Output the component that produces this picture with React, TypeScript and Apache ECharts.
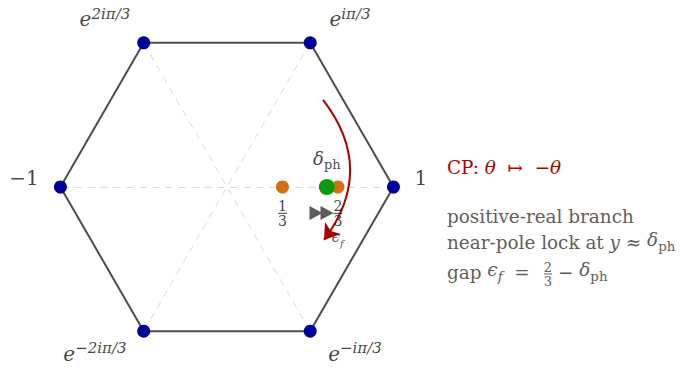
import React, { useEffect, useRef } from "react";
import * as echarts from "echarts";

// Hexagon vertices (sixth roots of unity)
const vertexX = [1, 0.5, -0.5, -1, -0.5, 0.5];
const vertexY = [0, 0.866, 0.866, 0, -0.866, -0.866];
const vertexLabelX = [1.165, 0.739, -0.733, -1.219, -0.793, 0.769];
const vertexLabelY = [0.054, 1.015, 1.015, 0.054, -0.991, -0.991];
const vertexLabelText = [
  "{n|1}",
  "{e|e}{sup|iπ/3}",
  "{e|e}{sup|2iπ/3}",
  "{n|−1}",
  "{e|e}{sup|−2iπ/3}",
  "{e|e}{sup|−iπ/3}",
];
// opposite-vertex pairs for dashed diagonals
const diagonalPairs = [
  [0, 3],
  [1, 4],
  [2, 5],
];
// points on the real axis
const thirdsX = [1 / 3, 2 / 3];
const thirdsNum = ["1", "2"];
const thirdsDen = ["3", "3"];
const fracLabelY = -0.158;
const deltaPh = 0.6;
const deltaLabelY = 0.162;
// CP arrow (start, end)
const cpArcStart = [0.577, 0.523];
const cpArcEnd = [0.583, -0.318];
// gray quiver heads
const quiverX = [0.535, 0.601];
const quiverY = [-0.156, -0.156];
const epsLabel = [0.665, -0.315];

const X_MIN = -1.363;
const X_MAX = 2.739;
const Y_MIN = -1.147;
const Y_MAX = 1.123;

const FONT = '"DejaVu Serif", serif';
const DARK = "#111111";
const GRAY_TEXT = "#5e5e5e";
const RED = "#b00000";
const FS = 18.4;

export default function App() {
  const ref = useRef<HTMLDivElement>(null);
  useEffect(() => {
    document.body.style.margin = "0";
    const chart = echarts.init(ref.current!, null, { renderer: "svg" });
    const hexData = vertexX.map((x, i) => [x, vertexY[i]]);
    hexData.push([vertexX[0], vertexY[0]]);
    const rich = {
      e: { fontFamily: FONT, fontStyle: "italic", fontSize: 20, lineHeight: 23, verticalAlign: "bottom", color: DARK },
      sup: { fontFamily: FONT, fontStyle: "italic", fontSize: 15, lineHeight: 14, verticalAlign: "top", color: DARK },
      n: { fontFamily: FONT, fontSize: 20, color: DARK },
    };
    const fracRich = {
      a: { fontFamily: FONT, fontSize: 14, lineHeight: 12, color: DARK },
      bar: { width: 9, height: 1, lineHeight: 3, fontSize: 1, backgroundColor: DARK },
    };
    const mathRich = (color: string, size: number) => ({
      i: { fontFamily: FONT, fontStyle: "italic", fontSize: size, color },
      d: { fontFamily: FONT, fontStyle: "italic", fontSize: size, lineHeight: size + 4, verticalAlign: "top", color },
      s: { fontFamily: FONT, fontSize: size - 5, lineHeight: size - 3, verticalAlign: "bottom", color },
      si: { fontFamily: FONT, fontStyle: "italic", fontSize: size - 5, lineHeight: size - 3, verticalAlign: "bottom", color },
    });

    chart.setOption({
      animation: false,
      grid: { left: 0, right: 0, top: 0, bottom: 0 },
      xAxis: { type: "value", min: X_MIN, max: X_MAX, show: false },
      yAxis: { type: "value", min: Y_MIN, max: Y_MAX, show: false },
      series: [
        {
          type: "lines",
          coordinateSystem: "cartesian2d",
          z: 1,
          silent: true,
          lineStyle: { color: "#dadada", width: 1, type: [7, 6], opacity: 1 },
          data: diagonalPairs.map(([a, b]) => ({
            coords: [
              [vertexX[a], vertexY[a]],
              [vertexX[b], vertexY[b]],
            ],
          })),
        },
        {
          type: "line",
          z: 2,
          symbol: "none",
          lineStyle: { color: "#4d4d4d", width: 2 },
          data: hexData,
        },
        {
          type: "scatter",
          z: 3,
          symbolSize: 13,
          itemStyle: { color: "#00009a", opacity: 1 },
          data: vertexX.map((x, i) => [x, vertexY[i]]),
        },
        {
          type: "scatter",
          z: 3,
          symbolSize: 13,
          itemStyle: { color: "#d66f12", opacity: 1 },
          data: thirdsX.map((x) => [x, 0]),
        },
        {
          type: "scatter",
          z: 4,
          symbolSize: 16,
          itemStyle: { color: "#0c9a0c", opacity: 1 },
          data: [[deltaPh, 0]],
        },
        {
          type: "scatter",
          z: 5,
          symbol: "triangle",
          symbolRotate: -90,
          symbolSize: [14, 13],
          itemStyle: { color: "#5c5c5c", opacity: 1 },
          data: quiverX.map((x, i) => [x, quiverY[i]]),
        },
        {
          type: "lines",
          coordinateSystem: "cartesian2d",
          z: 6,
          symbol: ["none", "arrow"],
          symbolSize: 15,
          lineStyle: { color: RED, width: 2, curveness: 0.38, opacity: 1 },
          data: [{ coords: [cpArcStart, cpArcEnd] }],
        },
        // labels
        {
          type: "scatter",
          z: 7,
          symbolSize: 1,
          itemStyle: { color: "transparent" },
          label: {
            show: true,
            position: "inside",
            formatter: (p: any) => vertexLabelText[p.dataIndex],
            rich,
          },
          data: vertexLabelX.map((x, i) => [x, vertexLabelY[i]]),
        },
        {
          type: "scatter",
          z: 7,
          symbolSize: 1,
          itemStyle: { color: "transparent" },
          label: {
            show: true,
            position: "inside",
            formatter: (p: any) => `{a|${thirdsNum[p.dataIndex]}}\n{bar| }\n{a|${thirdsDen[p.dataIndex]}}`,
            rich: fracRich,
          },
          data: thirdsX.map((x) => [x, fracLabelY]),
        },
        {
          type: "scatter",
          z: 7,
          symbolSize: 1,
          itemStyle: { color: "transparent" },
          label: {
            show: true,
            position: "inside",
            formatter: "{d|δ}{s|ph}",
            rich: mathRich(DARK, 18),
          },
          data: [[deltaPh, deltaLabelY]],
        },
        {
          type: "scatter",
          z: 7,
          symbolSize: 1,
          itemStyle: { color: "transparent" },
          label: {
            show: true,
            position: "inside",
            formatter: "{d|ϵ}{si|f}",
            rich: mathRich("#333333", 15),
          },
          data: [epsLabel],
        },
      ],
      graphic: [
        {
          type: "text",
          x: 447,
          y: 167,
          style: {
            text: "CP: {i|θ}  ↦  −{i|θ}",
            fill: RED,
            fontFamily: FONT,
            fontSize: FS,
            verticalAlign: "middle",
            rich: mathRich(RED, FS),
          },
        },
        {
          type: "text",
          x: 447,
          y: 216,
          style: {
            text: "positive-real branch",
            fill: GRAY_TEXT,
            fontFamily: FONT,
            fontSize: FS,
            verticalAlign: "middle",
          },
        },
        {
          type: "text",
          x: 447,
          y: 242,
          style: {
            text: "near-pole lock at {i|y} ≈ {d|δ}{s|ph}",
            fill: GRAY_TEXT,
            fontFamily: FONT,
            fontSize: FS,
            verticalAlign: "middle",
            rich: mathRich(GRAY_TEXT, FS),
          },
        },
        {
          type: "text",
          x: 447,
          y: 272,
          style: {
            text: "gap {d|ϵ}{si|f}  =",
            fill: GRAY_TEXT,
            fontFamily: FONT,
            fontSize: FS,
            verticalAlign: "middle",
            rich: mathRich(GRAY_TEXT, FS),
          },
        },
        {
          type: "text",
          x: 548,
          y: 274,
          style: {
            text: "{a|2}\n{bar| }\n{a|3}",
            fill: GRAY_TEXT,
            align: "center",
            verticalAlign: "middle",
            rich: {
              a: { fontFamily: FONT, fontSize: 13, lineHeight: 11, color: GRAY_TEXT },
              bar: { width: 8, height: 1, lineHeight: 3, fontSize: 1, backgroundColor: GRAY_TEXT },
            },
          },
        },
        {
          type: "text",
          x: 558,
          y: 272,
          style: {
            text: "− {d|δ}{s|ph}",
            fill: GRAY_TEXT,
            fontFamily: FONT,
            fontSize: FS,
            verticalAlign: "middle",
            rich: mathRich(GRAY_TEXT, FS),
          },
        },
      ],
    });
    return () => chart.dispose();
  }, []);
  return <div ref={ref} style={{ width: 683, height: 378 }} />;
}
